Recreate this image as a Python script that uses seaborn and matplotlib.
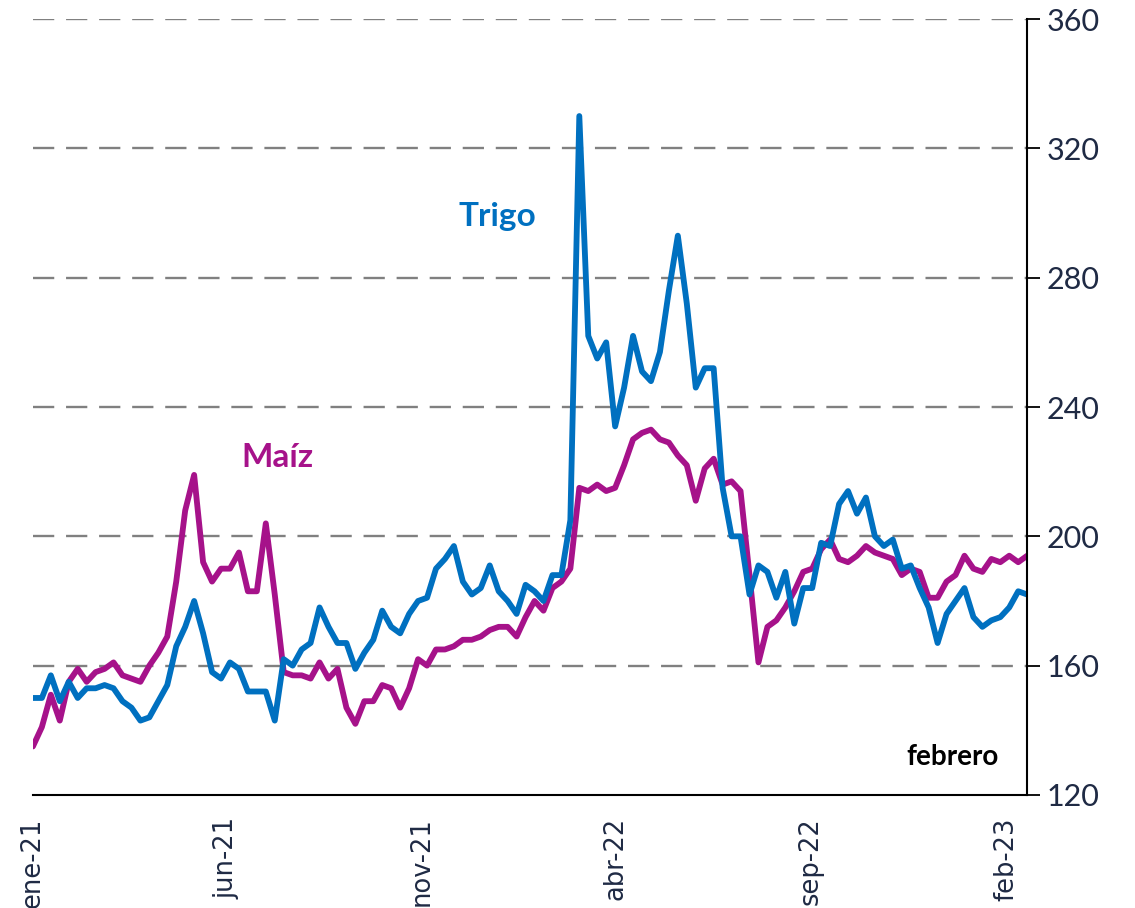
import pandas as pd
import numpy as np
import seaborn as sns
import matplotlib.pyplot as plt

# weekly readings, starting 1 jan 2021
maiz = [135, 141, 151, 143, 155, 159, 155, 158, 159, 161,
        157, 156, 155, 160, 164, 169, 186, 208, 219, 192,
        186, 190, 190, 195, 183, 183, 204, 182, 158, 157,
        157, 156, 161, 156, 159, 147, 142, 149, 149, 154,
        153, 147, 153, 162, 160, 165, 165, 166, 168, 168,
        169, 171, 172, 172, 169, 175, 180, 177, 184, 186,
        190, 215, 214, 216, 214, 215, 222, 230, 232, 233,
        230, 229, 225, 222, 211, 221, 224, 216, 217, 214,
        188, 161, 172, 174, 178, 183, 189, 190, 196, 199,
        193, 192, 194, 197, 195, 194, 193, 188, 190, 189,
        181, 181, 186, 188, 194, 190, 189, 193, 192, 194,
        192, 194]

trigo = [150, 150, 157, 149, 155, 150, 153, 153, 154, 153,
         149, 147, 143, 144, 149, 154, 166, 172, 180, 170,
         158, 156, 161, 159, 152, 152, 152, 143, 162, 160,
         165, 167, 178, 172, 167, 167, 159, 164, 168, 177,
         172, 170, 176, 180, 181, 190, 193, 197, 186, 182,
         184, 191, 183, 180, 176, 185, 183, 180, 188, 188,
         205, 330, 262, 255, 260, 234, 246, 262, 251, 248,
         257, 276, 293, 272, 246, 252, 252, 215, 200, 200,
         182, 191, 189, 181, 189, 173, 184, 184, 198, 197,
         210, 214, 207, 212, 200, 197, 199, 190, 191, 184,
         178, 167, 176, 180, 184, 175, 172, 174, 175, 178,
         183, 182]

fechas = pd.date_range('2021-01-01', periods=len(maiz), freq='7D')
tick_fechas = ['2021-01-01', '2021-06-01', '2021-11-01', '2022-04-01', '2022-09-01', '2023-02-01']
tick_labels = ['ene-21', 'jun-21', 'nov-21', 'abr-22', 'sep-22', 'feb-23']
y_ticks = [120, 160, 200, 240, 280, 320, 360]

df = pd.DataFrame({'fecha': list(fechas) * 2,
                   'valor': maiz + trigo,
                   'serie': ['Maíz'] * len(maiz) + ['Trigo'] * len(trigo)})

azul = '#0070C0'
magenta = '#A6128A'
texto = '#1F2A44'

sns.set_style('white')
fig = plt.figure(figsize=(11.35, 9.08), dpi=100)
ax = fig.add_axes([0.029, 0.1245, 0.876, 0.8545])

for y in y_ticks[1:]:
    ax.axhline(y, color='#808080', lw=1.7, ls=(0, (9, 5)), zorder=0)

sns.lineplot(data=df, x='fecha', y='valor', hue='serie',
             palette={'Maíz': magenta, 'Trigo': azul},
             hue_order=['Maíz', 'Trigo'], lw=4.2, legend=False, ax=ax)

ax.set_xlim(pd.Timestamp('2021-01-01'), pd.Timestamp('2023-02-17'))
ax.set_ylim(120, 360)
ax.set_xlabel('')
ax.set_ylabel('')

ax.set_xticks(pd.to_datetime(tick_fechas))
ax.set_xticklabels(tick_labels, rotation=90, fontsize=18.5, color=texto,
                   family='DejaVu Sans')
ax.yaxis.tick_right()
ax.set_yticks(y_ticks)
ax.set_yticklabels([str(v) for v in y_ticks], fontsize=22, color=texto, family='Lato')
ax.tick_params(axis='x', direction='out', length=10, width=1.3, color='black', pad=6)
ax.tick_params(axis='y', direction='out', length=9, width=1.3, color='black', pad=5)

for s in ['left', 'top']:
    ax.spines[s].set_visible(False)
for s in ['bottom', 'right']:
    ax.spines[s].set_visible(True)
    ax.spines[s].set_color('black')
    ax.spines[s].set_linewidth(1.5)

ax.text(pd.Timestamp('2021-12-30'), 299, 'Trigo', color=azul, fontsize=24,
        fontweight='bold', family='Lato', ha='center', va='center')
ax.text(pd.Timestamp('2021-07-11'), 224.5, 'Maíz', color=magenta, fontsize=24,
        fontweight='bold', family='Lato', ha='center', va='center')
ax.text(pd.Timestamp('2022-12-21'), 131.8, 'febrero', color='black', fontsize=20,
        fontweight='bold', family='Lato', ha='center', va='center')

fig.savefig('out.png', dpi=100)
